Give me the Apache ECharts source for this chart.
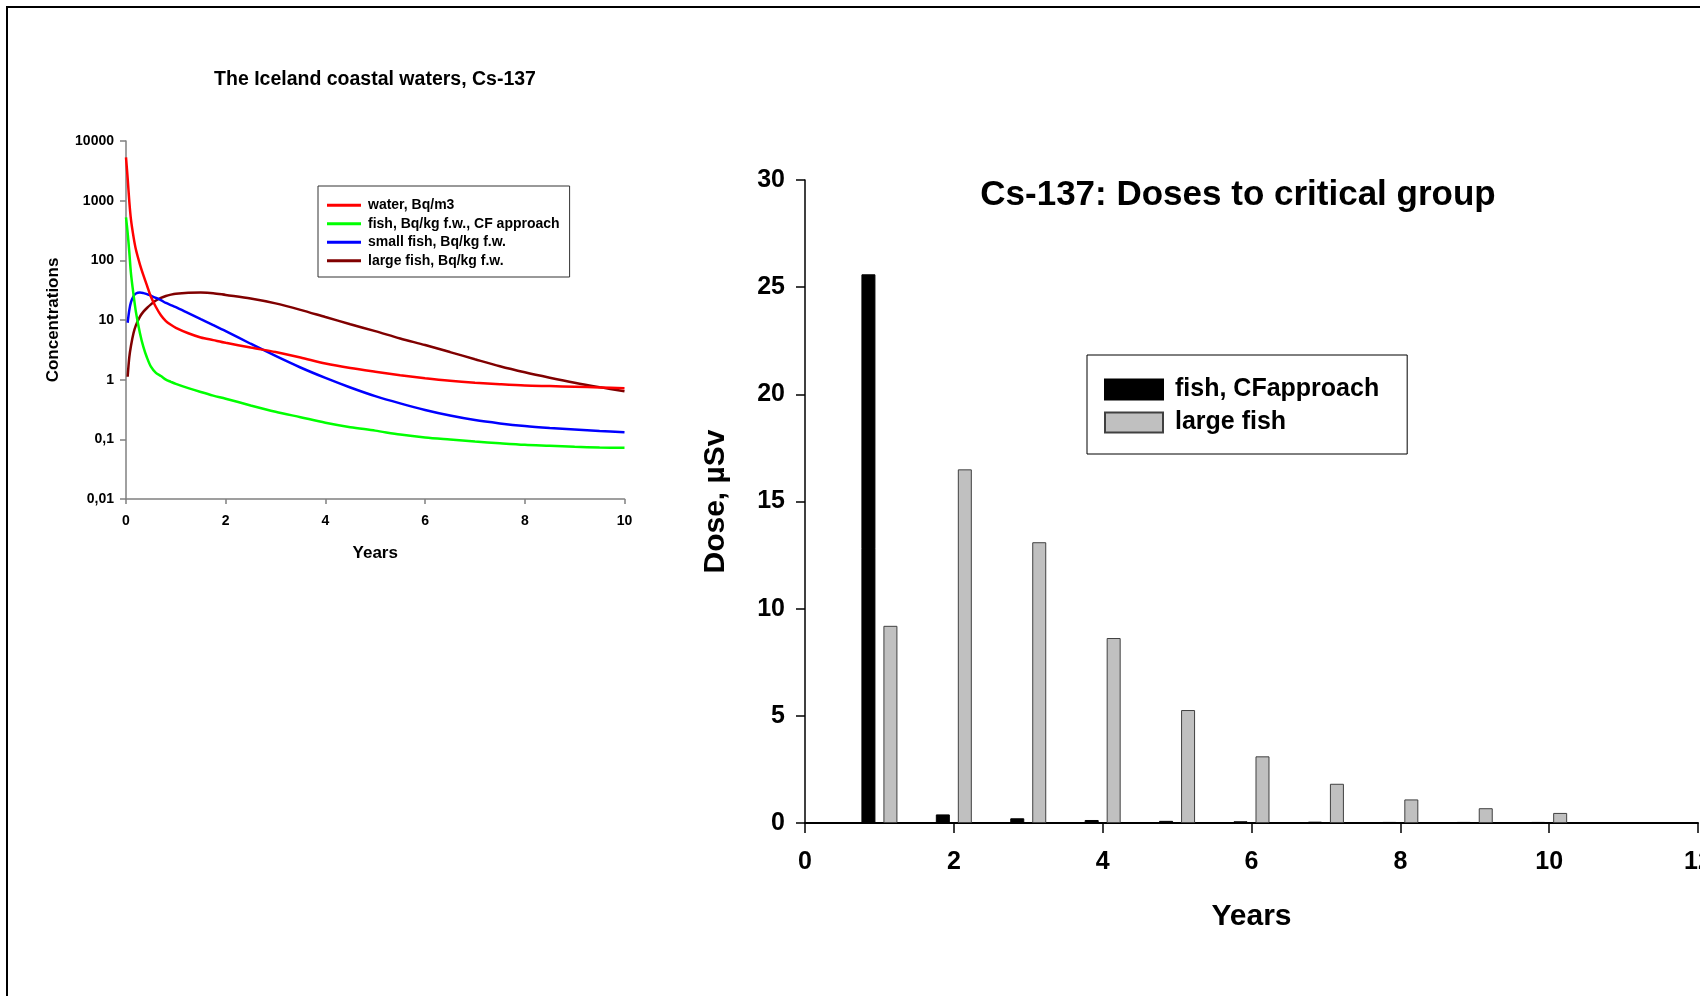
<!DOCTYPE html>
<html>
<head>
<meta charset="utf-8">
<script src="https://cdn.jsdelivr.net/npm/echarts@6/dist/echarts.min.js"></script>
<style>
  html, body { margin: 0; padding: 0; background: #fff; }
  #chart { width: 1700px; height: 996px; }
</style>
</head>
<body>
<div id="chart"></div>
<script>
// ---- Concentration time series (left panel, log scale) ----
const years = [0, 0.033, 0.067, 0.1, 0.15, 0.2, 0.28, 0.35, 0.42, 0.5, 0.6, 0.7, 0.8, 0.9, 1.0,
  1.25, 1.5, 1.75, 2, 2.5, 3, 3.5, 4, 4.5, 5, 5.5, 6, 6.5, 7, 7.5, 8, 8.5, 9, 9.5, 10];
const water = [5300, 2400, 950, 480, 250, 150, 85, 56, 38, 24.5, 16.5, 12, 9.6, 8.3, 7.4,
  6.0, 5.1, 4.6, 4.15, 3.45, 2.9, 2.35, 1.87, 1.57, 1.36, 1.19, 1.06, 0.96, 0.89, 0.84, 0.8, 0.78, 0.76, 0.74, 0.72];
const fishCFConc = [525, 290, 135, 60, 27, 13.5, 6.0, 3.5, 2.35, 1.65, 1.3, 1.15, 1.0, 0.92, 0.85,
  0.72, 0.62, 0.54, 0.48, 0.37, 0.29, 0.235, 0.19, 0.16, 0.14, 0.12, 0.107, 0.099, 0.092, 0.086, 0.081, 0.078, 0.075, 0.073, 0.072];
const smallFish = [null, 9.0, 14.8, 20, 25, 27.8, 28.8, 28.2, 27.2, 25.5, 23.5, 21.5, 19.3, 17.8, 16.4,
  13, 10.3, 8.2, 6.5, 4.0, 2.5, 1.6, 1.07, 0.74, 0.53, 0.4, 0.31, 0.25, 0.21, 0.185, 0.167, 0.155, 0.146, 0.138, 0.131];
const largeFishConc = [null, 1.12, 2.4, 3.7, 6.0, 8.2, 11.4, 13.8, 15.9, 18.3, 21.2, 23.5, 25.3, 26.6, 27.6,
  28.6, 28.8, 28.2, 26.3, 22.9, 19.0, 14.8, 11.2, 8.5, 6.5, 4.9, 3.8, 2.9, 2.2, 1.68, 1.33, 1.08, 0.89, 0.75, 0.64];
const concNames = ['water, Bq/m3', 'fish, Bq/kg f.w., CF approach', 'small fish, Bq/kg f.w.', 'large fish, Bq/kg f.w.'];
const concColors = ['#ff0000', '#00ff00', '#0000ff', '#800000'];
const concTickLabels = ['0,01', '0,1', '1', '10', '100', '1000', '10000'];

// ---- Annual doses (right panel) ----
const doseYears = [1, 2, 3, 4, 5, 6, 7, 8, 9, 10];
const doseFishCF = [25.6, 0.4, 0.22, 0.14, 0.1, 0.08, 0.06, 0.05, 0.05, 0.05];
const doseLargeFish = [9.2, 16.5, 13.1, 8.63, 5.27, 3.11, 1.83, 1.1, 0.69, 0.47];
const doseNames = ['fish, CFapproach', 'large fish'];

const FONT = "'Liberation Sans', Arial, Helvetica, sans-serif";
const bold = (size) => ({ fontFamily: FONT, fontSize: size, fontWeight: 'bold', color: '#000' });
const pairs = (xs, vals) => xs.map((t, i) => [t, vals[i]]).filter(p => p[1] != null);

const concSeries = [water, fishCFConc, smallFish, largeFishConc].map((vals, k) => ({
  name: concNames[k],
  type: 'line',
  xAxisIndex: 0,
  yAxisIndex: 0,
  data: pairs(years, vals),
  showSymbol: false,
  smooth: 0.3,
  lineStyle: { color: concColors[k], width: 2.5 },
  itemStyle: { color: concColors[k] },
  z: 5 - k
}));

const chart = echarts.init(document.getElementById('chart'), null, { renderer: 'canvas' });

chart.setOption({
  animation: false,
  backgroundColor: '#fff',
  textStyle: { fontFamily: FONT },
  title: [
    {
      text: 'The Iceland coastal waters, Cs-137',
      left: 375, top: 80, textAlign: 'center', textVerticalAlign: 'middle', padding: 0,
      textStyle: bold(19.5)
    },
    {
      text: 'Cs-137: Doses to critical group',
      left: 1238, top: 195, textAlign: 'center', textVerticalAlign: 'middle', padding: 0,
      textStyle: bold(35)
    }
  ],
  legend: [
    {
      data: concNames,
      orient: 'vertical',
      left: 318, top: 186,
      padding: [11, 10, 8, 9],
      itemGap: 2,
      itemWidth: 34, itemHeight: 3,
      icon: 'rect',
      borderColor: '#333', borderWidth: 1,
      textStyle: Object.assign(bold(14), { lineHeight: 16.5, padding: [0, 0, 0, 2] })
    },
    {
      data: doseNames,
      orient: 'vertical',
      left: 1087, top: 355,
      padding: [21, 28, 18, 17],
      itemGap: 6,
      itemWidth: 58, itemHeight: 20,
      icon: 'rect',
      borderColor: '#000', borderWidth: 1,
      textStyle: Object.assign(bold(25), { lineHeight: 27, padding: [0, 0, 0, 7] })
    }
  ],
  grid: [
    { left: 126, top: 141, width: 498.5, height: 358, outerBoundsMode: 'none', containLabel: false },
    { left: 805, top: 180, width: 893, height: 643, outerBoundsMode: 'none', containLabel: false }
  ],
  xAxis: [
    {
      gridIndex: 0, type: 'value', min: 0, max: 10, interval: 2,
      axisLine: { show: true, lineStyle: { color: '#808080', width: 1.5 } },
      axisTick: { show: true, length: 5, lineStyle: { color: '#808080', width: 1.5 } },
      axisLabel: Object.assign(bold(14), { margin: 15 }),
      splitLine: { show: false },
      name: 'Years', nameLocation: 'middle', nameGap: 46,
      nameTextStyle: bold(17)
    },
    {
      gridIndex: 1, type: 'value', min: 0, max: 12, interval: 2,
      axisLine: { show: true, lineStyle: { color: '#000', width: 2 } },
      axisTick: { show: true, length: 10, lineStyle: { color: '#000', width: 1.5 } },
      axisLabel: Object.assign(bold(25), { margin: 27, showMaxLabel: true }),
      splitLine: { show: false },
      name: 'Years', nameLocation: 'middle', nameGap: 79,
      nameTextStyle: bold(30)
    }
  ],
  yAxis: [
    {
      gridIndex: 0, type: 'log', logBase: 10, min: 0.01, max: 10000,
      axisLine: { show: true, lineStyle: { color: '#808080', width: 1.5 } },
      axisTick: { show: true, length: 6, lineStyle: { color: '#808080', width: 1.5 } },
      axisLabel: Object.assign(bold(14), {
        margin: 12,
        formatter: (v) => concTickLabels[Math.round(Math.log10(v)) + 2]
      }),
      splitLine: { show: false },
      minorTick: { show: false },
      name: 'Concentrations', nameLocation: 'middle', nameGap: 64,
      nameTextStyle: bold(17)
    },
    {
      gridIndex: 1, type: 'value', min: 0, max: 30, interval: 5,
      axisLine: { show: true, lineStyle: { color: '#000', width: 1.5 } },
      axisTick: { show: true, length: 9, lineStyle: { color: '#000', width: 1.5 } },
      axisLabel: Object.assign(bold(25), { margin: 20 }),
      splitLine: { show: false },
      name: 'Dose, µSv', nameLocation: 'middle', nameGap: 74,
      nameTextStyle: bold(30)
    }
  ],
  series: concSeries.concat([
    {
      name: doseNames[0],
      type: 'bar',
      xAxisIndex: 1, yAxisIndex: 1,
      data: pairs(doseYears, doseFishCF),
      barWidth: 14,
      barGap: '57%',
      itemStyle: { color: '#000', borderColor: '#000', borderWidth: 1 }
    },
    {
      name: doseNames[1],
      type: 'bar',
      xAxisIndex: 1, yAxisIndex: 1,
      data: pairs(doseYears, doseLargeFish),
      barWidth: 14,
      barGap: '57%',
      itemStyle: { color: '#c0c0c0', borderColor: '#404040', borderWidth: 1 }
    }
  ]),
  graphic: [
    {
      type: 'rect',
      silent: true,
      z: -10,
      shape: { x: 7, y: 7, width: 1800, height: 1200 },
      style: { fill: 'none', stroke: '#000', lineWidth: 2 }
    }
  ]
});
</script>
</body>
</html>
